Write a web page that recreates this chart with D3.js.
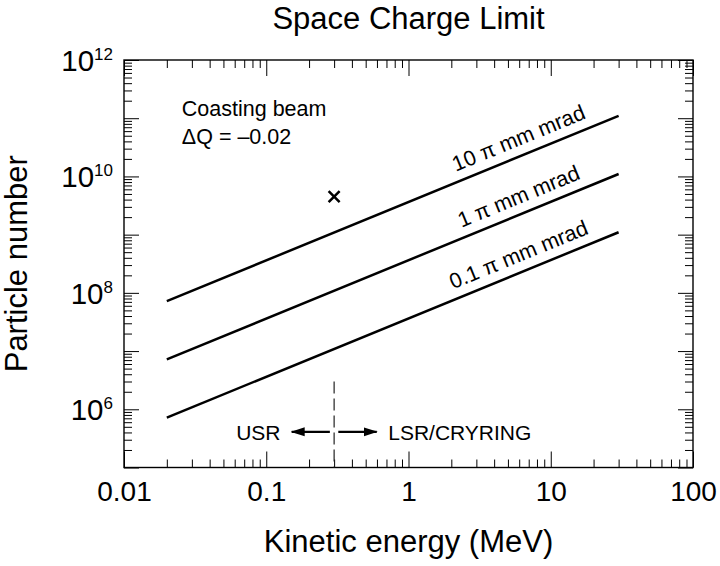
<!DOCTYPE html>
<head>
  <meta charset="utf-8">
  <script src="https://d3js.org/d3.v7.min.js"></script>
  <style>
    body { margin: 0; background: #fff; }
    svg { display: block; }
    text { font-family: "Liberation Sans", Arial, Helvetica, sans-serif; fill: #000; }
  </style>
</head>

<body>
  <svg width="720" height="566"></svg>
  <script>
    // data
    var energyMeV = [0.02, 30];
    var emittanceLabels = ["10 \u03c0 mm mrad", "1 \u03c0 mm mrad", "0.1 \u03c0 mm mrad"];
    var limit10 = [7.2e7, 1.1e11];
    var limit1 = [7.2e6, 1.1e10];
    var limit01 = [7.2e5, 1.1e9];
    var measuredPoint = [0.3, 4.5e9];
    var ringBoundary = 0.3;
    var xTickValues = [0.01, 0.1, 1, 10, 100];
    var xTickLabels = ["0.01", "0.1", "1", "10", "100"];
    var yLabelExponents = [12, 10, 8, 6];

    // options
    var width = 720, height = 566;
    var margin = {top: 60, right: 27, bottom: 98.5, left: 124};
    var font = 28;

    // scales
    var x = d3.scaleLog().domain([0.01, 100]).range([margin.left, width - margin.right]);
    var y = d3.scaleLog().domain([1e5, 1e12]).range([height - margin.bottom, margin.top]);

    var svg = d3.select('svg');

    svg.append('defs').append('marker')
      .attr('id', 'head')
      .attr('viewBox', '0 -5 14 10')
      .attr('refX', 13).attr('refY', 0)
      .attr('markerUnits', 'userSpaceOnUse')
      .attr('markerWidth', 14).attr('markerHeight', 10)
      .attr('orient', 'auto')
      .append('path').attr('d', 'M0,-4.5L14,0L0,4.5Z').attr('fill', '#000');

    // ticks: minor and major, all pointing inward
    var isMajor = function(v) { return Math.abs(Math.log10(v) - Math.round(Math.log10(v))) < 1e-9; };
    var xMinor = x.ticks().filter(function(v){ return !isMajor(v); });
    var yMinor = y.ticks().filter(function(v){ return !isMajor(v); });
    var yMajor = y.ticks().filter(isMajor);

    function drawAxis(axis, tx, ty) {
      var g = svg.append('g')
        .attr('transform', 'translate(' + [tx, ty] + ')')
        .call(axis);
      g.select('.domain').remove();
      g.selectAll('line').attr('stroke', '#000').attr('stroke-width', 1);
      return g;
    }
    var bottom = height - margin.bottom, right = width - margin.right;
    drawAxis(d3.axisBottom(x).tickValues(xMinor).tickSize(-8).tickFormat(''), 0, bottom);
    drawAxis(d3.axisTop(x).tickValues(xMinor).tickSize(-8).tickFormat(''), 0, margin.top);
    drawAxis(d3.axisLeft(y).tickValues(yMinor).tickSize(-8).tickFormat(''), margin.left, 0);
    drawAxis(d3.axisRight(y).tickValues(yMinor).tickSize(-8).tickFormat(''), right, 0);
    drawAxis(d3.axisTop(x).tickValues(xTickValues).tickSize(-16).tickFormat(''), 0, margin.top);
    drawAxis(d3.axisRight(y).tickValues(yMajor).tickSize(-15).tickFormat(''), right, 0);
    drawAxis(d3.axisLeft(y).tickValues(yMajor).tickSize(-15).tickFormat(''), margin.left, 0);

    var xAxis = drawAxis(d3.axisBottom(x).tickValues(xTickValues).tickSize(-16).tickPadding(14)
      .tickFormat(function(d, i){ return xTickLabels[i]; }), 0, bottom);
    xAxis.selectAll('text').attr('font-size', font).attr('font-family', null);
    xAxis.attr('font-family', null);

    // y labels 10^n
    var yl = svg.append('g').selectAll('text')
      .data(yLabelExponents)
      .enter().append('text')
      .attr('x', margin.left - 11)
      .attr('y', function(d){ return y(Math.pow(10, d)) + 11; })
      .attr('text-anchor', 'end')
      .attr('font-size', 29.5);
    yl.append('tspan').text('10');
    yl.append('tspan').attr('font-size', 17).attr('dy', -11).text(function(d){ return d; });

    // frame
    svg.append('rect')
      .attr('x', margin.left).attr('y', margin.top)
      .attr('width', right - margin.left).attr('height', bottom - margin.top)
      .attr('fill', 'none').attr('stroke', '#000').attr('stroke-width', 1.4);

    // limit lines
    var series = [limit10, limit1, limit01];
    var line = d3.line()
      .x(function(d, i){ return x(energyMeV[i]); })
      .y(function(d){ return y(d); });
    svg.append('g').selectAll('path')
      .data(series)
      .enter().append('path')
      .attr('d', line)
      .attr('fill', 'none').attr('stroke', '#000').attr('stroke-width', 2.5);

    // line labels
    var labelE = 6.6;
    svg.append('g').selectAll('text')
      .data(series)
      .enter().append('text')
      .attr('transform', function(d){
        var slope = Math.log(d[1] / d[0]) / Math.log(energyMeV[1] / energyMeV[0]);
        var n = d[0] * Math.pow(labelE / energyMeV[0], slope);
        var ang = Math.atan2(y(d[1]) - y(d[0]), x(energyMeV[1]) - x(energyMeV[0])) * 180 / Math.PI;
        return 'translate(' + [x(labelE), y(n)] + ') rotate(' + ang + ')';
      })
      .attr('y', -10)
      .attr('text-anchor', 'middle')
      .attr('font-size', 21.5)
      .text(function(d, i){ return emittanceLabels[i]; });

    // measured point
    var px = x(measuredPoint[0]), py = y(measuredPoint[1]), s = 5.5;
    svg.append('path')
      .attr('d', 'M' + (px - s) + ',' + (py - s) + 'L' + (px + s) + ',' + (py + s) +
                 'M' + (px - s) + ',' + (py + s) + 'L' + (px + s) + ',' + (py - s))
      .attr('stroke', '#000').attr('stroke-width', 2.5);

    // boundary between rings
    svg.append('line')
      .attr('x1', x(ringBoundary)).attr('x2', x(ringBoundary))
      .attr('y1', y(3e6)).attr('y2', y(1e5))
      .attr('stroke', '#222').attr('stroke-width', 1.2)
      .attr('stroke-dasharray', '12,5');

    var arrowN = 4.1e5;
    svg.append('line')
      .attr('x1', x(0.28)).attr('x2', x(0.151))
      .attr('y1', y(arrowN)).attr('y2', y(arrowN))
      .attr('stroke', '#000').attr('stroke-width', 2.2).attr('marker-end', 'url(#head)');
    svg.append('line')
      .attr('x1', x(0.321)).attr('x2', x(0.598))
      .attr('y1', y(arrowN)).attr('y2', y(arrowN))
      .attr('stroke', '#000').attr('stroke-width', 2.2).attr('marker-end', 'url(#head)');
    svg.append('text')
      .attr('x', x(0.126)).attr('y', y(arrowN) + 8)
      .attr('text-anchor', 'end').attr('font-size', 21).text('USR');
    svg.append('text')
      .attr('x', x(0.72)).attr('y', y(arrowN) + 8)
      .attr('font-size', 21).text('LSR/CRYRING');

    // notes
    svg.append('text')
      .attr('x', x(0.0255)).attr('y', margin.top + 56)
      .attr('font-size', 21.5).text('Coasting beam');
    svg.append('text')
      .attr('x', x(0.0255)).attr('y', margin.top + 84)
      .attr('font-size', 21.5).text('\u0394Q = \u20130.02');

    // titles
    svg.append('text')
      .attr('x', (margin.left + right) / 2).attr('y', 29)
      .attr('text-anchor', 'middle').attr('font-size', 31)
      .text('Space Charge Limit');
    svg.append('text')
      .attr('x', (margin.left + right) / 2).attr('y', 552)
      .attr('text-anchor', 'middle').attr('font-size', 31)
      .text('Kinetic energy (MeV)');
    svg.append('text')
      .attr('transform', 'translate(27,' + (margin.top + bottom) / 2 + ') rotate(-90)')
      .attr('text-anchor', 'middle').attr('font-size', 31)
      .text('Particle number');
  </script>
</body>
</html>
